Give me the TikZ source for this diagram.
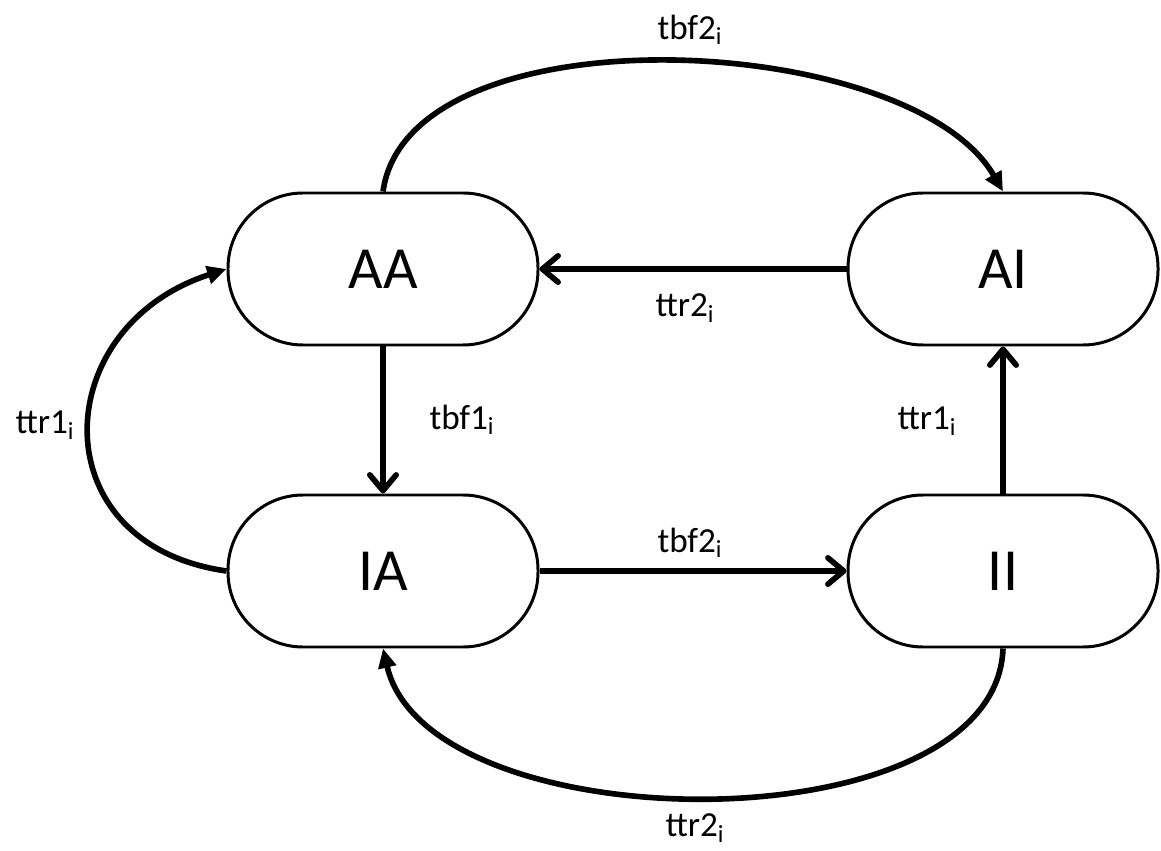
\documentclass[tikz,border=0pt]{standalone}
\usepackage{fontspec}
\setmainfont{Carlito}
\usepackage{tikz}
\usetikzlibrary{arrows.meta, positioning}

\begin{document}
\begin{tikzpicture}[
    state/.style={draw, line width=1.7pt, rounded corners=1.5cm, minimum width=6.2cm, minimum height=3.04cm, font=\fontsize{34}{40}\selectfont},
    lbl/.style={font=\fontsize{20}{24}\selectfont, inner sep=0pt},
    flow/.style={line width=3.2pt, -{Straight Barb[length=9pt, width=15pt, round]}},
    loop/.style={line width=3.2pt, -{Triangle[length=11pt, width=10pt]}}
  ]
  \useasboundingbox (0,0) rectangle (23.22,17);

  % States
  \node[state] (AA) at (7.66, 11.62) {AA};
  \node[state] (AI) at (20.06, 11.62) {AI};
  \node[state] (IA) at (7.66, 5.58) {IA};
  \node[state] (II) at (20.06, 5.58) {II};

  % Straight transitions
  \draw[flow] (AI.west) -- (AA.east);
  \draw[flow] (AA.south) -- (IA.north);
  \draw[flow] (IA.east) -- (II.west);
  \draw[flow] (II.north) -- (AI.south);

  % Curved transitions
  \draw[loop] (AA.north) to[out=82, in=120, looseness=0.77] (AI.north);
  \draw[loop] (IA.west) to[out=172, in=198, looseness=1.6] (AA.west);
  \draw[loop] (II.south) to[out=-92, in=-77, looseness=0.83] (IA.south);

  % Rates
  \node[lbl] (tbf2top) at (13.8, 16.4) {tbf2\textsubscript{i}};
  \node[lbl] (ttr2mid) at (13.7, 10.84) {ttr2\textsubscript{i}};
  \node[lbl] (tbf1) at (9.24, 8.6) {tbf1\textsubscript{i}};
  \node[lbl] (ttr1right) at (18.54, 8.58) {ttr1\textsubscript{i}};
  \node[lbl] (ttr1left) at (0.9, 8.5) {ttr1\textsubscript{i}};
  \node[lbl] (tbf2mid) at (13.8, 6.14) {tbf2\textsubscript{i}};
  \node[lbl] (ttr2bot) at (13.9, 0.44) {ttr2\textsubscript{i}};
\end{tikzpicture}
\end{document}
